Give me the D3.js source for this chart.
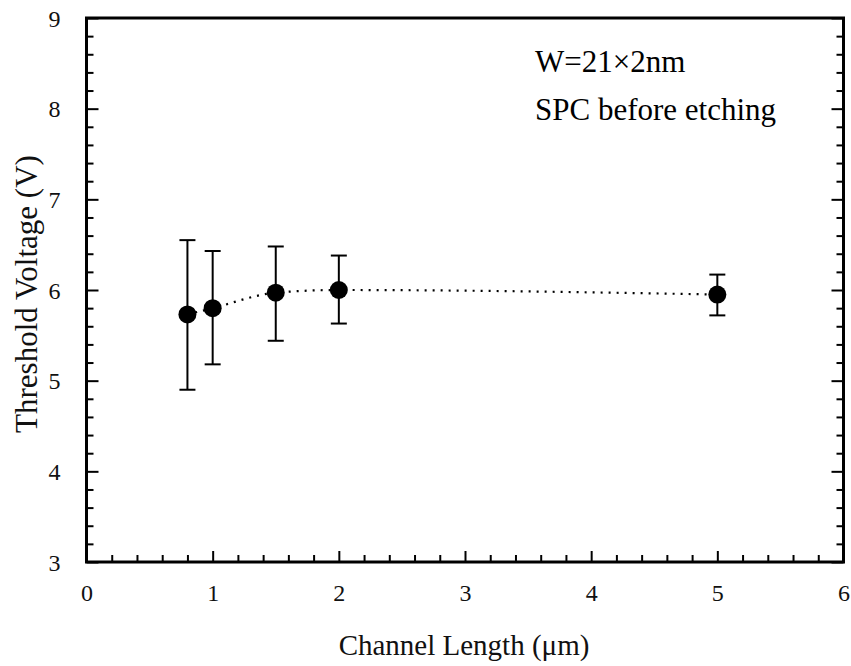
<!DOCTYPE html>
<html>
<head>
<meta charset="utf-8">
<script src="https://cdn.jsdelivr.net/npm/d3@7/dist/d3.min.js"></script>
<style>
  html, body { margin: 0; padding: 0; background: #fff; }
</style>
</head>
<body>
<svg id="chart" width="851" height="666"></svg>
<script>
// Channel length (µm) and measured threshold voltage (V)
const channelLength = [0.8, 1, 1.5, 2, 5];
const vthMean = [5.73, 5.80, 5.97, 6.00, 5.95];
const vthMax = [6.55, 6.43, 6.48, 6.38, 6.17];
const vthMin = [4.90, 5.18, 5.44, 5.63, 5.72];

const xTicks = [0, 1, 2, 3, 4, 5, 6];
const yTicks = [3, 4, 5, 6, 7, 8, 9];
const annotations = ["W=21\u00d72nm", "SPC before etching"];

const serif = "Liberation Serif";
const svg = d3.select("#chart").attr("font-family", serif);
const plot = { left: 86.5, right: 843.5, top: 18, bottom: 562 };

const x = d3.scaleLinear().domain([0, 6]).range([plot.left, plot.right]);
const y = d3.scaleLinear().domain([3, 9]).range([plot.bottom, plot.top]);

const minorX = d3.range(0, 6.0001, 0.2).map(v => +v.toFixed(1)).filter(v => !xTicks.includes(v));
const minorY = d3.range(3, 9.0001, 0.2).map(v => +v.toFixed(1)).filter(v => !yTicks.includes(v));

const tickStroke = 2;
const fontSize = 24;

// Bottom axis: ticks pointing inward
const bottomAxis = d3.axisBottom(x).tickValues(xTicks).tickSizeInner(-11).tickSizeOuter(0).tickPadding(22).tickFormat(d3.format("d"));
const gB = svg.append("g").attr("transform", `translate(0,${plot.bottom})`).call(bottomAxis);
const bottomMinor = d3.axisBottom(x).tickValues(minorX).tickSizeInner(-7).tickSizeOuter(0).tickFormat("");
const gBm = svg.append("g").attr("transform", `translate(0,${plot.bottom})`).call(bottomMinor);

// Left axis
const leftAxis = d3.axisLeft(y).tickValues(yTicks).tickSizeInner(-12).tickSizeOuter(0).tickPadding(26).tickFormat(d3.format("d"));
const gL = svg.append("g").attr("transform", `translate(${plot.left},0)`).call(leftAxis);
const leftMinor = d3.axisLeft(y).tickValues(minorY).tickSizeInner(-7).tickSizeOuter(0).tickFormat("");
const gLm = svg.append("g").attr("transform", `translate(${plot.left},0)`).call(leftMinor);

// Right axis: ticks only
const rightAxis = d3.axisRight(y).tickValues(yTicks).tickSizeInner(-12).tickSizeOuter(0).tickFormat("");
const gR = svg.append("g").attr("transform", `translate(${plot.right},0)`).call(rightAxis);
const rightMinor = d3.axisRight(y).tickValues(minorY).tickSizeInner(-7).tickSizeOuter(0).tickFormat("");
const gRm = svg.append("g").attr("transform", `translate(${plot.right},0)`).call(rightMinor);

[gB, gBm, gL, gLm, gR, gRm].forEach(g => {
  g.attr("font-family", serif).attr("font-size", fontSize);
  g.select(".domain").remove();
  g.selectAll(".tick line").attr("stroke", "#000").attr("stroke-width", tickStroke);
  g.selectAll(".tick text").attr("fill", "#111");
});
gL.selectAll(".tick text").attr("dy", "0.34em");

// Frame
svg.append("rect")
  .attr("x", plot.left).attr("y", plot.top)
  .attr("width", plot.right - plot.left).attr("height", plot.bottom - plot.top)
  .attr("fill", "none").attr("stroke", "#000").attr("stroke-width", 3);

// Axis titles
svg.append("text")
  .attr("x", 464).attr("y", 655)
  .attr("text-anchor", "middle").attr("fill", "#111")
  .attr("font-family", serif).attr("font-size", 29)
  .text("Channel Length (\u03bcm)");

svg.append("text")
  .attr("transform", "translate(37,294) rotate(-90)")
  .attr("text-anchor", "middle").attr("fill", "#111")
  .attr("font-family", serif).attr("font-size", 31)
  .text("Threshold Voltage (V)");

// Annotation text
svg.selectAll("text.note").data(annotations).enter().append("text")
  .attr("class", "note")
  .attr("x", 535).attr("y", (d, i) => 72 + i * 48)
  .attr("fill", "#000")
  .attr("font-family", serif).attr("font-size", 31)
  .text(d => d);

const pts = channelLength.map((c, i) => ({ c, v: vthMean[i], hi: vthMax[i], lo: vthMin[i] }));

// Smoothed dotted trend through the means
svg.append("path")
  .datum(pts)
  .attr("fill", "none").attr("stroke", "#000")
  .attr("stroke-width", 2.2)
  .attr("stroke-dasharray", "2,6")
  .attr("d", d3.line().x(d => x(d.c)).y(d => y(d.v)).curve(d3.curveMonotoneX));

// Error bars
const capHalf = 8;
const eb = svg.append("g").attr("stroke", "#000").attr("stroke-width", 2);
eb.selectAll("line.stem").data(pts).enter().append("line")
  .attr("x1", d => x(d.c)).attr("x2", d => x(d.c))
  .attr("y1", d => y(d.hi)).attr("y2", d => y(d.lo));
eb.selectAll("line.capHi").data(pts).enter().append("line")
  .attr("x1", d => x(d.c) - capHalf).attr("x2", d => x(d.c) + capHalf)
  .attr("y1", d => y(d.hi)).attr("y2", d => y(d.hi));
eb.selectAll("line.capLo").data(pts).enter().append("line")
  .attr("x1", d => x(d.c) - capHalf).attr("x2", d => x(d.c) + capHalf)
  .attr("y1", d => y(d.lo)).attr("y2", d => y(d.lo));

// Markers
svg.selectAll("circle.pt").data(pts).enter().append("circle")
  .attr("class", "pt")
  .attr("cx", d => x(d.c)).attr("cy", d => y(d.v))
  .attr("r", 9).attr("fill", "#000");
</script>
</body>
</html>
